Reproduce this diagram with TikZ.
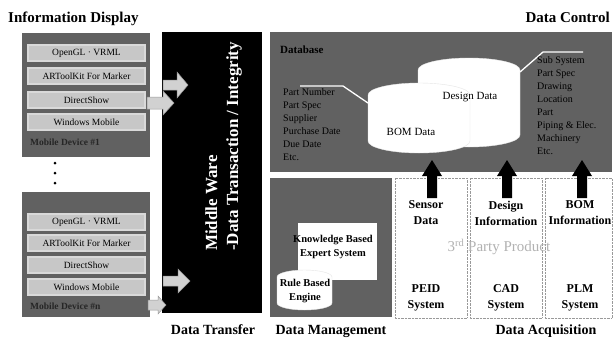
\documentclass[tikz,border=0pt]{standalone}
\usepackage{fontspec}
\setmainfont{Liberation Serif}
\begin{document}
\begin{tikzpicture}[x=1pt,y=-1pt,
  title/.style={font=\bfseries\fontsize{15}{17}\selectfont, inner sep=0pt},
  foot/.style={font=\bfseries\fontsize{14}{16}\selectfont, inner sep=0pt},
  panel/.style={fill=black!62},
  layerbox/.style={fill=black!22, draw=white!85!black, line width=1.2pt, minimum width=117pt, minimum height=16pt, inner sep=0pt, font=\fontsize{9.5}{11}\selectfont},
  devlabel/.style={font=\bfseries\fontsize{9.5}{11}\selectfont, text=black!85, inner sep=0pt},
  listtxt/.style={font=\fontsize{10}{13}\selectfont, align=left, inner sep=0pt, anchor=north west},
  cyl/.style={fill=white, draw=white!90!black, line width=0.4pt},
  colbox/.style={draw=black!40, densely dotted, fill=white},
  acq/.style={font=\bfseries\fontsize{12}{16}\selectfont, align=center, inner sep=0pt},
  kb/.style={font=\bfseries\fontsize{10.5}{14}\selectfont, align=center, inner sep=0pt},
  grayarrow/.style={fill=black!18, draw=black!40, line width=0.5pt},
  blackarrow/.style={fill=black}]
\useasboundingbox (0,0) rectangle (616,338);

% titles
\node[title, anchor=base west] (tinfo) at (8,22) {Information Display};
\node[title, anchor=base east] (tctrl) at (610,22) {Data Control};

% ---------- upper mobile device panel
\fill[panel] (22,33) rectangle (150,157);
\node[layerbox] (gl1) at (86.5,53) {OpenGL · VRML};
\node[layerbox] (ar1) at (86.5,76) {ARToolKit For Marker};
\node[layerbox] (ds1) at (86.5,100) {DirectShow};
\node[layerbox] (wm1) at (86.5,122) {Windows Mobile};
\node[devlabel, anchor=west] (md1) at (30,142) {Mobile Device \#1};

% dots
\fill (55,163) circle (1.5pt) (55,173) circle (1.5pt) (55,183) circle (1.5pt);

% ---------- lower mobile device panel
\fill[panel] (22,192) rectangle (150,317);
\node[layerbox] (gl2) at (86.5,222) {OpenGL · VRML};
\node[layerbox] (ar2) at (86.5,243) {ARToolKit For Marker};
\node[layerbox] (ds2) at (86.5,265) {DirectShow};
\node[layerbox] (wm2) at (86.5,287) {Windows Mobile};
\node[devlabel, anchor=west] (md2) at (30,306) {Mobile Device \#n};

% ---------- middle ware
\fill[black] (162,32) rectangle (262,313);
\node[rotate=90, anchor=south west, text=white, align=left, inner sep=0pt,
      font=\bfseries\fontsize{17}{21}\selectfont] (mw) at (242,251)
      {Middle Ware\\-Data Transaction / Integrity};

% gray block arrows
\draw[grayarrow] (163,80) -- (177,80) -- (177,72) -- (188,85) -- (177,98) -- (177,90) -- (163,90) -- cycle;
\draw[grayarrow] (147,97) -- (163,97) -- (163,91) -- (174,103) -- (163,115) -- (163,109) -- (147,109) -- cycle;
\draw[grayarrow] (163,276) -- (178,276) -- (178,269) -- (190,281) -- (178,293) -- (178,286) -- (163,286) -- cycle;
\draw[grayarrow] (148,300) -- (158,300) -- (158,296) -- (166,305) -- (158,314) -- (158,310) -- (148,310) -- cycle;

% ---------- database panel
\fill[panel] (270,32) rectangle (612,172);
\node[font=\bfseries\fontsize{11}{13}\selectfont, anchor=base west, inner sep=0pt] (dbl) at (280,53) {Database};

% cylinders
\path[cyl] (418,70) -- (418,135) arc[start angle=180, end angle=360, x radius=51pt, y radius=12pt]
   -- (520,70) arc[start angle=0, end angle=180, x radius=51pt, y radius=12pt] -- cycle;
\path[cyl] (368,95) -- (368,141) arc[start angle=180, end angle=360, x radius=51pt, y radius=12pt]
   -- (470,95) arc[start angle=0, end angle=180, x radius=51pt, y radius=12pt] -- cycle;
\node[font=\fontsize{11}{13}\selectfont, inner sep=0pt] (dd) at (470,97) {Design Data};
\node[font=\fontsize{11}{13}\selectfont, inner sep=0pt] (bd) at (411,132) {BOM Data};

% connector lines
\coordinate (l1) at (300,86);
\coordinate (l2) at (343,86);
\coordinate (r1) at (543,52);
\coordinate (r2) at (583,52);
\draw[white, line width=1.3pt] (l1) -- (l2) -- (368,103);
\draw[white, line width=1.3pt] (520,72) -- (r1) -- (r2);

\node[listtxt] (leftlist) at (283,88) {Part Number\\Part Spec\\ Supplier\\ Purchase Date\\ Due Date\\ Etc.};
\node[listtxt] (rightlist) at (537,56) {Sub System\\Part Spec\\Drawing\\Location\\Part\\Piping \& Elec.\\Machinery\\Etc.};

% ---------- data management panel
\fill[panel] (270,178) rectangle (392,317);
\fill[white] (298,223) rectangle (377,280);
\node[kb] (kbes) at (333,247) {Knowledge Based\\Expert System};
\path[cyl] (277,277) -- (277,303) arc[start angle=180, end angle=360, x radius=27.5pt, y radius=7pt]
   -- (332,277) arc[start angle=0, end angle=180, x radius=27.5pt, y radius=7pt] -- cycle;
\node[kb] (rbe) at (305,291) {Rule Based\\Engine};

% ---------- data acquisition columns
\path[colbox] (395,178) rectangle (467,318);
\path[colbox] (470,178) rectangle (542,318);
\path[colbox] (545,178) rectangle (612,318);
\node[text=black!30, font=\fontsize{15}{17}\selectfont, inner sep=0pt] (tpp) at (499,247) {3\textsuperscript{rd} Party Product};

\node[acq] (sd) at (426,213) {Sensor\\Data};
\node[acq] (di) at (506,213) {Design\\Information};
\node[acq] (bi) at (580,213) {BOM\\Information};
\node[acq] (peid) at (426,298) {PEID\\System};
\node[acq] (cad) at (506,298) {CAD\\System};
\node[acq] (plm) at (580,298) {PLM\\System};

% black up arrows
\foreach \ax in {432,507,582}{
  \fill[blackarrow] (\ax-5,198) -- (\ax-5,176) -- (\ax-10,176) -- (\ax,160) -- (\ax+10,176) -- (\ax+5,176) -- (\ax+5,198) -- cycle;
}

% footer labels
\node[foot, anchor=base] (ft) at (213,334) {Data Transfer};
\node[foot, anchor=base] (fm) at (331,334) {Data Management};
\node[foot, anchor=base] (fa) at (546,334) {Data Acquisition};
\end{tikzpicture}
\end{document}
